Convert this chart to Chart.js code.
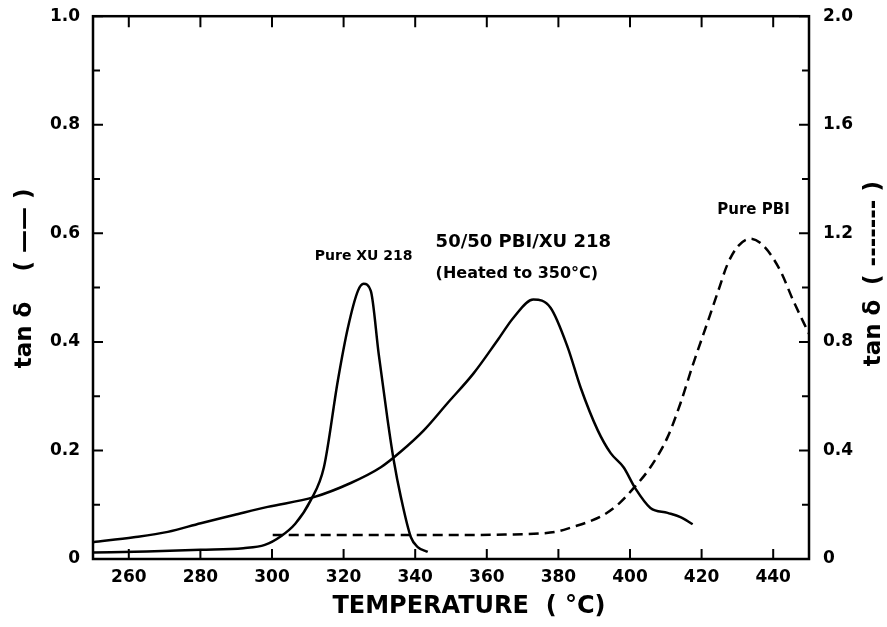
<!DOCTYPE html>
<html>
<head>
<meta charset="utf-8">
<script src="https://cdn.jsdelivr.net/npm/chart.js@4.4.1/dist/chart.umd.min.js"></script>
<style>
  html, body { margin: 0; padding: 0; background: #fff; }
  #wrap { width: 887px; height: 627px; }
</style>
</head>
<body>
<div id="wrap"><canvas id="chart" width="887" height="627"></canvas></div>
<script>
// values (temperature in °C, tan delta)
const xuTemp = [250, 265, 280, 292, 298, 302.5, 306.5, 310.8, 314.5, 318.4, 321.2, 324, 325.6, 327.6, 329.8, 332.3, 334, 336, 338.8, 340.7, 343.5];
const xuTan  = [0.012, 0.014, 0.017, 0.020, 0.026, 0.042, 0.065, 0.108, 0.169, 0.329, 0.426, 0.494, 0.507, 0.494, 0.378, 0.256, 0.182, 0.114, 0.040, 0.022, 0.013];

const blendTemp = [250, 261.4, 270.9, 280.1, 289.4, 298.8, 311.7, 322, 330.4, 336, 342.4, 349, 356.3, 363, 367.5, 373, 377.8, 382.6, 386.2, 391, 394.6, 398.2, 401.5, 405.7, 410.5, 414.1, 417.5];
const blendTan  = [0.031, 0.040, 0.050, 0.066, 0.081, 0.096, 0.114, 0.140, 0.169, 0.198, 0.237, 0.287, 0.342, 0.403, 0.445, 0.478, 0.463, 0.390, 0.316, 0.237, 0.195, 0.169, 0.130, 0.094, 0.085, 0.077, 0.064];

// pure PBI is read on the right hand axis (0 - 2.0)
const pbiTemp = [300.2, 320, 347, 365, 375, 380, 384, 388, 392.6, 397, 401, 405.7, 410.5, 414.1, 417.7, 421.6, 424.7, 427.2, 430, 433.6, 437.3, 442, 445.6, 450];
const pbiTan  = [0.088, 0.088, 0.088, 0.090, 0.094, 0.102, 0.118, 0.135, 0.162, 0.205, 0.261, 0.338, 0.449, 0.574, 0.721, 0.870, 0.990, 1.085, 1.150, 1.180, 1.154, 1.062, 0.952, 0.830];

const xTicks = [260, 280, 300, 320, 340, 360, 380, 400, 420, 440];
const yTicks = [0, 0.2, 0.4, 0.6, 0.8, 1.0];
const yMinor = [0.1, 0.3, 0.5, 0.7, 0.9];
const y2Ticks = [0, 0.4, 0.8, 1.2, 1.6, 2.0];
const y2Minor = [0.2, 0.6, 1.0, 1.4, 1.8];

const FONT = "'DejaVu Sans', sans-serif";

function pts(xs, ys) {
    return xs.map((x, i) => ({ x: x, y: ys[i] }));
}

// text placed on the plot, anchored in data coordinates
const notes = [
    { text: "Pure XU 218", x: 325.6, y: 0.557, size: 14, align: "center" },
    { text: "50/50 PBI/XU 218", x: 345.7, y: 0.583, size: 18, align: "left" },
    { text: "(Heated to 350°C)", x: 345.7, y: 0.526, size: 16, align: "left" },
    { text: "Pure PBI", x: 434.5, y: 0.642, size: 15, align: "center" },
];

const framePlugin = {
    id: "frame",
    afterDraw(chart) {
        const ctx = chart.ctx;
        const a = chart.chartArea;
        const sx = chart.scales.x, sy = chart.scales.y, sy2 = chart.scales.y2;
        ctx.save();
        ctx.strokeStyle = "#000";
        ctx.lineWidth = 2.5;
        ctx.strokeRect(a.left, a.top, a.right - a.left, a.bottom - a.top);

        // inward tick marks
        ctx.lineWidth = 2;
        ctx.beginPath();
        xTicks.forEach(v => {
            const px = sx.getPixelForValue(v);
            ctx.moveTo(px, a.bottom); ctx.lineTo(px, a.bottom - 10);
            ctx.moveTo(px, a.top); ctx.lineTo(px, a.top + 11);
        });
        yTicks.forEach(v => {
            const py = sy.getPixelForValue(v);
            ctx.moveTo(a.left, py); ctx.lineTo(a.left + 10, py);
        });
        yMinor.forEach(v => {
            const py = sy.getPixelForValue(v);
            ctx.moveTo(a.left, py); ctx.lineTo(a.left + 7, py);
        });
        y2Ticks.forEach(v => {
            const py = sy2.getPixelForValue(v);
            ctx.moveTo(a.right, py); ctx.lineTo(a.right - 10, py);
        });
        y2Minor.forEach(v => {
            const py = sy2.getPixelForValue(v);
            ctx.moveTo(a.right, py); ctx.lineTo(a.right - 7, py);
        });
        ctx.stroke();

        // curve labels
        ctx.fillStyle = "#000";
        ctx.textBaseline = "middle";
        notes.forEach(n => {
            ctx.font = "bold " + n.size + "px " + FONT;
            ctx.textAlign = n.align;
            ctx.fillText(n.text, sx.getPixelForValue(n.x), sy.getPixelForValue(n.y));
        });

        // axis titles
        ctx.font = "bold 24px " + FONT;
        ctx.textAlign = "center";
        ctx.fillText("TEMPERATURE  ( °C)", (a.left + a.right) / 2 + 18, 607);

        ctx.font = "bold 23px " + FONT;
        ctx.save();
        ctx.translate(25, 0);
        ctx.rotate(-Math.PI / 2);
        ctx.fillText("tan δ", -335, 0);
        ctx.fillText("( —— )", -230, 0);
        ctx.restore();

        ctx.save();
        ctx.translate(874, 0);
        ctx.rotate(-Math.PI / 2);
        ctx.fillText("tan δ", -333, 0);
        ctx.fillText("( ------- )", -233, 0);
        ctx.restore();

        ctx.restore();
    }
};

const tickFont = { family: FONT, size: 17, weight: "bold" };

new Chart(document.getElementById("chart"), {
    type: "line",
    data: {
        datasets: [
            {
                label: "Pure XU 218",
                data: pts(xuTemp, xuTan),
                yAxisID: "y",
                borderColor: "#000",
                borderWidth: 2.5,
                pointRadius: 0,
                cubicInterpolationMode: "monotone",
            },
            {
                label: "50/50 PBI/XU 218 (Heated to 350°C)",
                data: pts(blendTemp, blendTan),
                yAxisID: "y",
                borderColor: "#000",
                borderWidth: 2.5,
                pointRadius: 0,
                cubicInterpolationMode: "monotone",
            },
            {
                label: "Pure PBI",
                data: pts(pbiTemp, pbiTan),
                yAxisID: "y2",
                borderColor: "#000",
                borderWidth: 2.5,
                borderDash: [10, 6],
                pointRadius: 0,
                cubicInterpolationMode: "monotone",
            },
        ],
    },
    options: {
        responsive: false,
        animation: false,
        events: [],
        layout: { padding: { top: 15, left: 0, right: 0, bottom: 0 } },
        plugins: {
            legend: { display: false },
            tooltip: { enabled: false },
        },
        scales: {
            x: {
                type: "linear",
                min: 250,
                max: 450,
                grid: { display: false },
                border: { display: false },
                afterBuildTicks: s => { s.ticks = xTicks.map(v => ({ value: v })); },
                afterFit: s => { s.height = 68; },
                ticks: { font: tickFont, color: "#000", padding: 0, maxRotation: 0 },
            },
            y: {
                position: "left",
                min: 0,
                max: 1,
                grid: { display: false },
                border: { display: false },
                afterBuildTicks: s => { s.ticks = yTicks.map(v => ({ value: v })); },
                afterFit: s => { s.width = 93; },
                ticks: {
                    font: tickFont, color: "#000", padding: 5,
                    callback: v => v === 0 ? "0" : v.toFixed(1),
                },
            },
            y2: {
                position: "right",
                min: 0,
                max: 2,
                grid: { display: false },
                border: { display: false },
                afterBuildTicks: s => { s.ticks = y2Ticks.map(v => ({ value: v })); },
                afterFit: s => { s.width = 78; },
                ticks: {
                    font: tickFont, color: "#000", padding: 6,
                    callback: v => v === 0 ? "0" : v.toFixed(1),
                },
            },
        },
    },
    plugins: [framePlugin],
});
</script>
</body>
</html>
